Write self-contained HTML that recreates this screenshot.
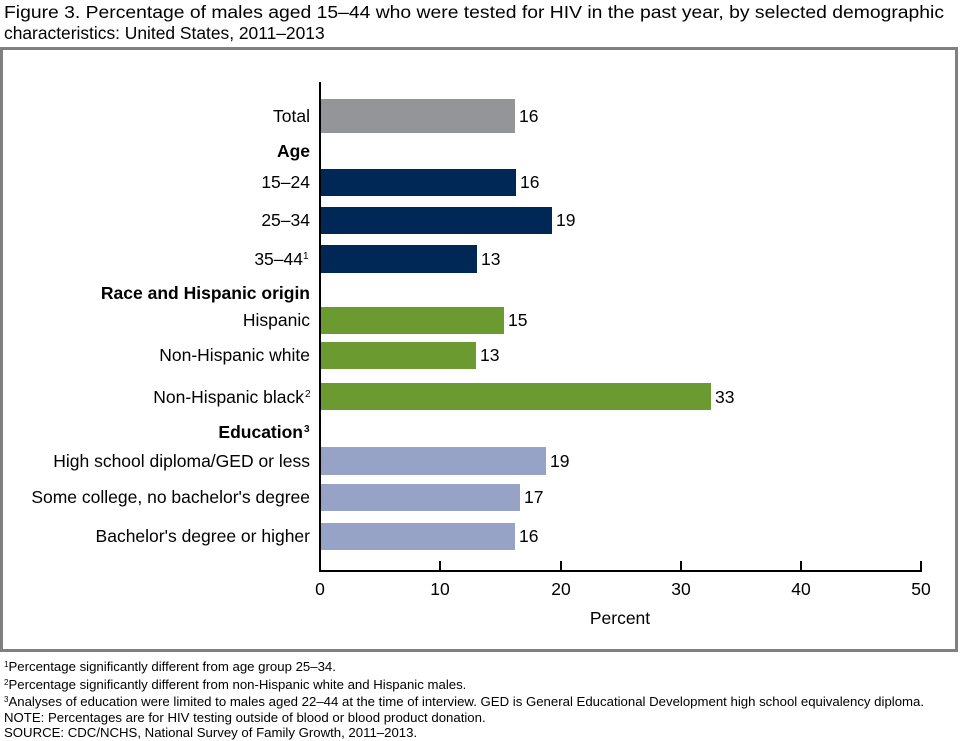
<!DOCTYPE html>
<html><head><style>
body{margin:0;background:#fff;}
svg{display:block;font-family:"Liberation Sans",Arial,sans-serif;}
</style></head><body>
<svg width="960" height="741" viewBox="0 0 960 741" xmlns="http://www.w3.org/2000/svg">
<text x="4" y="18" font-size="17.4" fill="#000" textLength="940" lengthAdjust="spacingAndGlyphs">Figure 3. Percentage of males aged 15–44 who were tested for HIV in the past year, by selected demographic</text>
<text x="4" y="39" font-size="17.4" fill="#000">characteristics: United States, 2011–2013</text>
<rect x="1.5" y="48.5" width="955" height="602" fill="none" stroke="#808080" stroke-width="3"/>
<g font-size="17.5" fill="#000">
<rect x="320" y="99" width="195" height="34" fill="#939598"/>
<text x="310" y="122" text-anchor="end">Total</text><text x="519" y="122">16</text>
<text x="310" y="157" text-anchor="end" font-weight="bold">Age</text>
<rect x="320" y="169" width="196" height="27" fill="#002856"/>
<text x="310" y="188" text-anchor="end">15–24</text><text x="520" y="188">16</text>
<rect x="320" y="207" width="232" height="27" fill="#002856"/>
<text x="310" y="226" text-anchor="end">25–34</text><text x="556" y="226">19</text>
<rect x="320" y="245" width="157" height="28" fill="#002856"/>
<text x="303" y="265" text-anchor="end">35–44</text><text x="303" y="259" font-size="10">1</text><text x="481" y="265">13</text>
<text x="310" y="299" text-anchor="end" font-weight="bold">Race and Hispanic origin</text>
<rect x="320" y="307" width="184" height="27" fill="#6a9a30"/>
<text x="310" y="326" text-anchor="end">Hispanic</text><text x="508" y="326">15</text>
<rect x="320" y="342" width="156" height="27" fill="#6a9a30"/>
<text x="310" y="361" text-anchor="end">Non-Hispanic white</text><text x="480" y="361">13</text>
<rect x="320" y="383" width="391" height="27" fill="#6a9a30"/>
<text x="304" y="403" text-anchor="end">Non-Hispanic black</text><text x="305" y="397" font-size="10">2</text><text x="715" y="403">33</text>
<text x="303" y="438" text-anchor="end" font-weight="bold">Education</text><text x="304" y="432" font-size="10" font-weight="bold">3</text>
<rect x="320" y="447" width="226" height="28" fill="#97a3c6"/>
<text x="310" y="467" text-anchor="end">High school diploma/GED or less</text><text x="550" y="467">19</text>
<rect x="320" y="484" width="200" height="27" fill="#97a3c6"/>
<text x="310" y="503" text-anchor="end">Some college, no bachelor's degree</text><text x="524" y="503">17</text>
<rect x="320" y="523" width="195" height="27" fill="#97a3c6"/>
<text x="310" y="542" text-anchor="end">Bachelor's degree or higher</text><text x="519" y="542">16</text>
</g>
<g stroke="#000" stroke-width="2">
<line x1="320" y1="82" x2="320" y2="572"/>
<line x1="319" y1="571" x2="922" y2="571"/>
<line x1="440" y1="561" x2="440" y2="571"/>
<line x1="561" y1="561" x2="561" y2="571"/>
<line x1="681" y1="561" x2="681" y2="571"/>
<line x1="801" y1="561" x2="801" y2="571"/>
<line x1="921" y1="561" x2="921" y2="571"/>
</g>
<g font-size="17.5" text-anchor="middle" fill="#000">
<text x="320" y="595">0</text><text x="440" y="595">10</text><text x="561" y="595">20</text>
<text x="681" y="595">30</text><text x="801" y="595">40</text><text x="921" y="595">50</text>
<text x="620" y="624">Percent</text>
</g>
<g font-size="13.2" fill="#000">
<text x="4" y="671"><tspan font-size="8" dy="-4">1</tspan><tspan dy="4">Percentage significantly different from age group 25–34.</tspan></text>
<text x="4" y="689"><tspan font-size="8" dy="-4">2</tspan><tspan dy="4">Percentage significantly different from non-Hispanic white and Hispanic males.</tspan></text>
<text x="4" y="706"><tspan font-size="8" dy="-4">3</tspan><tspan dy="4">Analyses of education were limited to males aged 22–44 at the time of interview. GED is General Educational Development high school equivalency diploma.</tspan></text>
<text x="4" y="722">NOTE: Percentages are for HIV testing outside of blood or blood product donation.</text>
<text x="4" y="737">SOURCE: CDC/NCHS, National Survey of Family Growth, 2011–2013.</text>
</g>
</svg>
</body></html>
